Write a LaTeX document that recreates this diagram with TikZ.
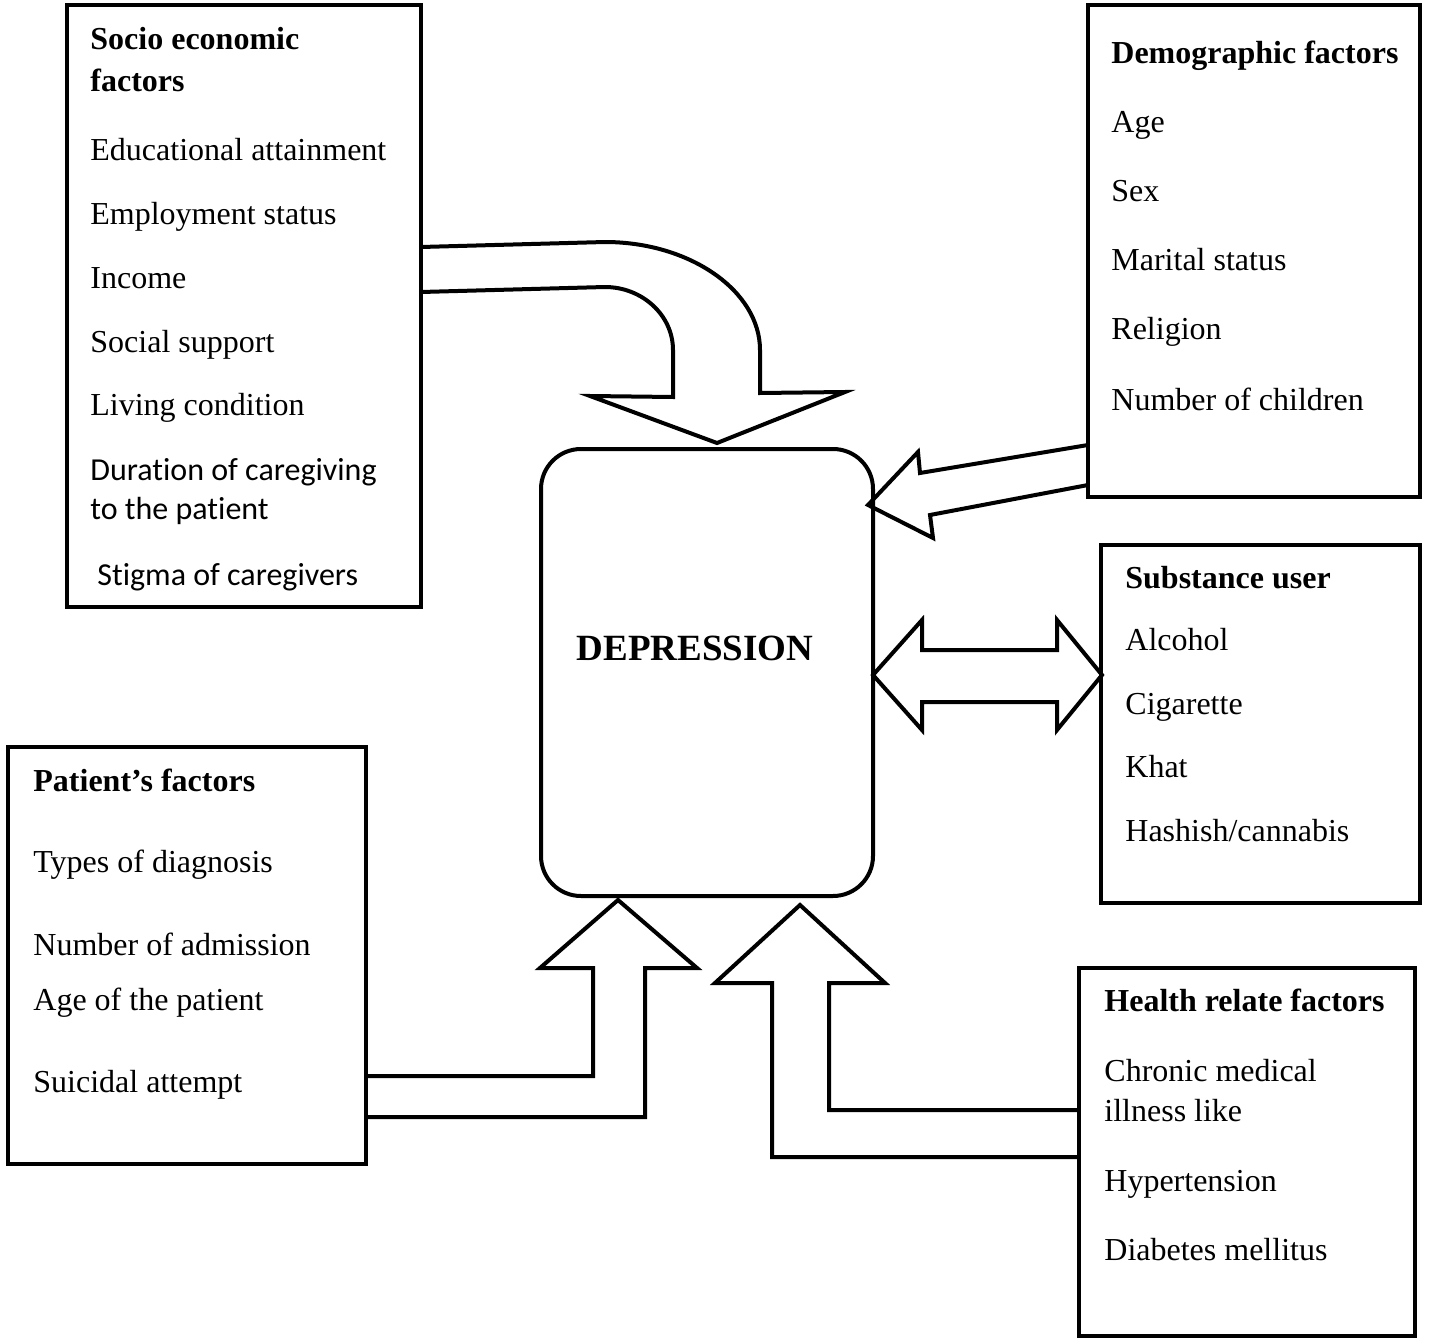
\documentclass[tikz,border=0pt]{standalone}
\usepackage{fontspec}
\setmainfont{Liberation Serif}
\newfontfamily\calibrifont[Ligatures=NoCommon]{Carlito}
\begin{document}
\begin{tikzpicture}[x=0.5pt,y=-0.5pt,
  boxline/.style={draw=black, line width=2.25pt},
  blockarrow/.style={draw=black, fill=white, line width=2pt, line join=miter},
  item/.style={anchor=base west, inner sep=0pt, font=\fontsize{16}{19}\selectfont},
  head/.style={anchor=base west, inner sep=0pt, font=\fontsize{16}{19}\selectfont\bfseries}]
\useasboundingbox (0,0) rectangle (1430,1338);

%% block arrows (drawn first, the box edges go over their open ends)
\filldraw[blockarrow] (421,247) -- (605,242) .. controls (690,242) and (760,291) .. (760,350) -- (760,393) -- (845,392) -- (717,443) -- (590,396) -- (673,397) -- (673,350) .. controls (673,315) and (642,287) .. (605,287) -- (421,292);
\filldraw[blockarrow] (1088,445) -- (920,473) -- (918,452) -- (868,505) -- (933,538) -- (930,515) -- (1088,485);
\filldraw[blockarrow] (873,675) -- (922,620) -- (922,650) -- (1057,650) -- (1057,620) -- (1102,675) -- (1057,730) -- (1057,702) -- (922,702) -- (922,730) -- cycle;
\filldraw[blockarrow] (366,1076) -- (593,1076) -- (593,968) -- (540,968) -- (618,900) -- (697,968) -- (645,968) -- (645,1117) -- (366,1117);
\filldraw[blockarrow] (1079,1110) -- (829,1110) -- (829,983) -- (885,983) -- (800,905) -- (715,983) -- (772,983) -- (772,1157) -- (1079,1157);

%% the five factor boxes
\draw[boxline] (67,5) rectangle (421,607);
\draw[boxline] (1088,5) rectangle (1420,497);
\draw[boxline] (1101,545) rectangle (1420,903);
\draw[boxline] (1079,968) rectangle (1415,1336);
\draw[boxline] (8,747) rectangle (366,1164);

%% central box
\node[draw, line width=2pt, rounded corners=20pt, minimum width=166pt, minimum height=223.5pt] (dep) at (707,672.5) {};
\node[font=\fontsize{18.5}{22}\selectfont\bfseries] (deptext) at (695,648) {DEPRESSION};

%% socio economic factors
\node[head] (se0) at (90,50) {Socio economic};
\node[head] (se1) at (90,92) {factors};
\node[item] (se2) at (90,161) {Educational attainment};
\node[item] (se3) at (90,224) {Employment status};
\node[item] (se4) at (90,288) {Income};
\node[item] (se5) at (90,352) {Social support};
\node[item] (se6) at (90,415) {Living condition};
\node[item, font=\fontsize{16}{19}\calibrifont] (se7) at (90,480) {Duration of caregiving};
\node[item, font=\fontsize{16}{19}\calibrifont] (se8) at (90,519) {to the patient};
\node[item, font=\fontsize{16}{19}\calibrifont] (se9) at (97,585) {Stigma of caregivers};

%% demographic factors
\node[head] (dm0) at (1111,64) {Demographic factors};
\node[item] (dm1) at (1111,133) {Age};
\node[item] (dm2) at (1111,201) {Sex};
\node[item] (dm3) at (1111,270) {Marital status};
\node[item] (dm4) at (1111,339) {Religion};
\node[item] (dm5) at (1111,410) {Number of children};

%% substance user
\node[head] (su0) at (1125,588) {Substance user};
\node[item] (su1) at (1125,650) {Alcohol};
\node[item] (su2) at (1125,714) {Cigarette};
\node[item] (su3) at (1125,777) {Khat};
\node[item] (su4) at (1125,841) {Hashish/cannabis};

%% health related factors
\node[head] (hr0) at (1104,1011) {Health relate factors};
\node[item] (hr1) at (1104,1081) {Chronic medical};
\node[item] (hr2) at (1104,1121) {illness like};
\node[item] (hr3) at (1104,1191) {Hypertension};
\node[item] (hr4) at (1104,1260) {Diabetes mellitus};

%% patient's factors
\node[head] (pf0) at (33,791) {Patient's factors};
\node[item] (pf1) at (33,872) {Types of diagnosis};
\node[item] (pf2) at (33,955) {Number of admission};
\node[item] (pf3) at (33,1010) {Age of the patient};
\node[item] (pf4) at (33,1092) {Suicidal attempt};
\end{tikzpicture}
\end{document}
